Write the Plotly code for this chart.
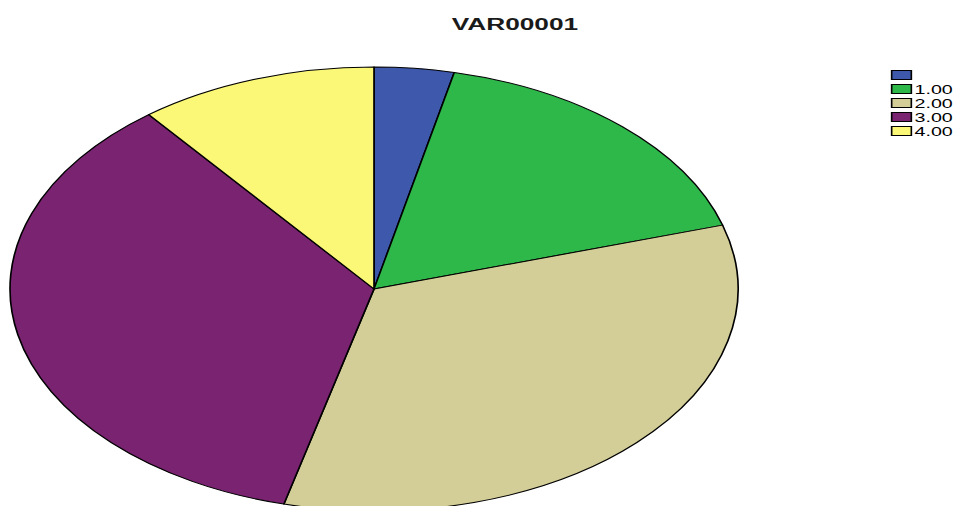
import plotly.graph_objects as go

# Data (SPSS pie of VAR00001)
categories = [" ", "1.00", "2.00", "3.00", "4.00"]
counts = [4, 19, 38, 40, 12]
colors = ["#3E58AC", "#2FB84A", "#D3CE97", "#7A2371", "#FBF877"]

STRETCH = 1.64          # the reference image is stretched horizontally
W_OUT, H = 953, 506
W = W_OUT / STRETCH      # un-stretched figure width

# approximate pie placement (un-stretched px); refined to the exact ellipse in post_script
r_dom = 219
cx, cy = 228, 287
fig = go.Figure(go.Pie(
    labels=categories,
    values=counts,
    marker=dict(colors=colors, line=dict(color="#000000", width=1)),
    sort=False,
    direction="clockwise",
    rotation=0,
    textinfo="none",
    hoverinfo="label+value+percent",
    domain=dict(x=[(cx - r_dom) / W, (cx + r_dom) / W],
                y=[(H - cy - r_dom) / H, (H - cy + r_dom) / H]),
))

fig.update_layout(
    width=W, height=H,
    margin=dict(l=0, r=0, t=0, b=0),
    paper_bgcolor="white",
    plot_bgcolor="white",
    font=dict(family="Liberation Sans, Arial, sans-serif", color="#000000"),
    title=dict(text="<b>VAR00001</b>", x=314 / W, xanchor="center",
               yref="container", y=1 - 19 / H, yanchor="top",
               font=dict(size=16, color="#1a1a1a")),
    legend=dict(x=0.88, xanchor="left", y=1 - 62 / H, yanchor="top",
                font=dict(size=12, color="#000000"),
                bgcolor="rgba(0,0,0,0)", borderwidth=0, traceorder="normal"),
    showlegend=True,
)

# target screen geometry of the reference (px in the 953x506 window)
ELLIPSE = dict(left=10, right=738, top=67, bottom=511)
LEG_TEXT_LEFT, LEG_ROW0_Y, LEG_ROW_GAP = 914.5, 75, 14

js = """
var S = %(S)s;
var gd = document.getElementById('{plot_id}');
document.documentElement.style.margin = '0';
document.documentElement.style.overflow = 'hidden';
document.body.style.margin = '0';
document.body.style.overflow = 'hidden';
gd.style.transformOrigin = '0 0';
gd.style.transform = 'scaleX(' + S + ')';
function tr(el){
  var t = el.getAttribute('transform') || '';
  var m = /translate\\(\\s*([-\\d.e]+)(?:[\\s,]+([-\\d.e]+))?\\s*\\)/.exec(t);
  return m ? [parseFloat(m[1]), parseFloat(m[2] || 0)] : [0, 0];
}
var gr = gd.getBoundingClientRect();
var offx = gr.left, offy = gr.top;
// pie -> exact ellipse
var pl = gd.querySelector('g.pielayer');
if (pl) {
  var r = pl.getBoundingClientRect();
  var x0 = (r.left - offx) / S, x1 = (r.right - offx) / S;
  var y0 = r.top - offy, y1 = r.bottom - offy;
  var tx0 = (%(el)s - offx) / S, tx1 = (%(er)s - offx) / S;
  var ty0 = %(et)s - offy, ty1 = %(eb)s - offy;
  var a = (tx1 - tx0) / (x1 - x0), e = tx0 - a * x0;
  var d = (ty1 - ty0) / (y1 - y0), f = ty0 - d * y0;
  pl.setAttribute('transform', 'matrix(' + a + ',0,0,' + d + ',' + e + ',' + f + ')');
}
// legend rows and swatches
var items = gd.querySelectorAll('.legend .traces');
var iy0 = null;
items.forEach(function(it, i){
  var p0 = tr(it);
  if (iy0 === null) iy0 = p0[1];
  it.setAttribute('transform', 'translate(' + p0[0] + ',' + (iy0 + i * %(gap)s) + ')');
  var txt = it.querySelector('text.legendtext');
  var tx = txt ? parseFloat(txt.getAttribute('x')) : 40;
  var p = it.querySelector('path.legendpie');
  if (p) {
    p.setAttribute('d', 'M6,4.5H-6V-4.5H6Z');
    p.setAttribute('transform', 'translate(' + (tx - 13 / S) + ',0)');
  }
});
var lg = gd.querySelector('g.legend');
if (lg && items.length > 1) {
  var t1 = items[1].querySelector('text.legendtext').getBoundingClientRect();
  var s0 = items[0].querySelector('path.legendpie').getBoundingClientRect();
  var dx = (%(tl)s - t1.left) / S;
  var dy = %(ry)s - (s0.top + s0.bottom) / 2;
  var lp = tr(lg);
  lg.setAttribute('transform', 'translate(' + (lp[0] + dx) + ',' + (lp[1] + dy) + ')');
}
""" % dict(S=STRETCH, el=ELLIPSE["left"], er=ELLIPSE["right"], et=ELLIPSE["top"],
           eb=ELLIPSE["bottom"], gap=LEG_ROW_GAP, tl=LEG_TEXT_LEFT, ry=LEG_ROW0_Y)

fig.write_html("out.html", post_script=js, config={"displayModeBar": False})
